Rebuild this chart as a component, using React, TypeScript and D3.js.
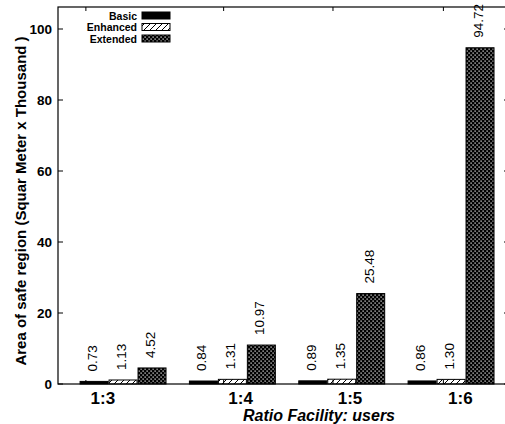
import * as d3 from 'd3';

const categories = ['1:3', '1:4', '1:5', '1:6'];
// gnuplot-style tic positions (in group units) for each category
const catTickPos = [-0.34, 0.92, 1.92, 2.93];
const seriesNames = ['Basic', 'Enhanced', 'Extended'];
const basic = [0.73, 0.84, 0.89, 0.86];
const enhanced = [1.13, 1.31, 1.35, 1.30];
const extended = [4.52, 10.97, 25.48, 94.72];
const yTicks = [0, 20, 40, 60, 80, 100];

const W = 505;
const H = 424;
const plot = { left: 58, top: 7, right: 509, bottom: 384 };
const FONT = '"Liberation Sans", Arial, Helvetica, sans-serif';

const series = [basic, enhanced, extended];
const fills = ['#000', 'url(#hatch)', 'url(#dots)'];

export default function App() {
  const x = d3.scaleLinear().domain([-0.595, 3.53]).range([plot.left, plot.right]);
  const y = d3.scaleLinear().domain([0, 106.2]).range([plot.bottom, plot.top]);
  const step = 0.265;
  const bw = x(0.256) - x(0);

  return (
    <svg width={W} height={H} style={{ display: 'block', position: 'absolute', left: 0, top: 0 }}>
      <defs>
        <pattern id="hatch" width="6" height="6" patternUnits="userSpaceOnUse">
          <rect width="6" height="6" fill="#fff" />
          <path d="M-1,7 L7,-1 M-4,4 L4,-4 M2,10 L10,2" stroke="#000" strokeWidth="1" />
        </pattern>
        <pattern id="dots" width="4" height="4" patternUnits="userSpaceOnUse">
          <rect width="4" height="4" fill="#000" />
          <rect x="0.5" y="0.5" width="1.2" height="1.2" fill="#fff" />
          <rect x="2.5" y="2.5" width="1.2" height="1.2" fill="#fff" />
        </pattern>
      </defs>
      <rect width={W} height={H} fill="#fff" />

      {/* bars */}
      {categories.map((c, i) =>
        series.map((s, k) => {
          const cx = x(i + (k - 1) * step);
          return (
            <rect
              key={c + k}
              x={cx - bw / 2}
              y={y(s[i])}
              width={bw}
              height={y(0) - y(s[i])}
              fill={fills[k]}
              stroke="#000"
              strokeWidth={1}
            />
          );
        })
      )}

      {/* value labels */}
      {categories.map((c, i) =>
        series.map((s, k) => {
          const cx = x(i + (k - 1) * step);
          return (
            <text
              key={'v' + c + k}
              transform={`translate(${cx + 3},${y(s[i]) - 10}) rotate(-90)`}
              fontFamily={FONT}
              fontSize={13.5}
              fill="#000"
            >
              {s[i].toFixed(2)}
            </text>
          );
        })
      )}

      {/* frame */}
      <rect
        x={plot.left}
        y={plot.top}
        width={plot.right - plot.left}
        height={plot.bottom - plot.top}
        fill="none"
        stroke="#000"
        strokeWidth={1.2}
      />

      {/* y ticks */}
      {yTicks.map(t => (
        <g key={'y' + t}>
          <line x1={plot.left} x2={plot.left + 5} y1={y(t)} y2={y(t)} stroke="#000" />
          <line x1={plot.right - 5} x2={plot.right} y1={y(t)} y2={y(t)} stroke="#000" />
          <text
            x={52}
            y={y(t) + 5}
            textAnchor="end"
            fontFamily={FONT}
            fontWeight="bold"
            fontSize={13.5}
          >
            {t}
          </text>
        </g>
      ))}

      {/* x ticks */}
      {categories.map((c, i) => (
        <g key={'x' + c}>
          <line x1={x(catTickPos[i])} x2={x(catTickPos[i])} y1={plot.top} y2={plot.top + 4} stroke="#000" />
          <line x1={x(catTickPos[i])} x2={x(catTickPos[i])} y1={plot.bottom} y2={plot.bottom - 4} stroke="#000" />
          <text
            x={x(catTickPos[i]) + 17}
            y={404}
            textAnchor="middle"
            fontFamily={FONT}
            fontWeight="bold"
            fontSize={17}
          >
            {c}
          </text>
        </g>
      ))}

      {/* axis titles */}
      <text
        x={319}
        y={421}
        textAnchor="middle"
        fontFamily={FONT}
        fontWeight="bold"
        fontStyle="italic"
        fontSize={16}
      >
        Ratio Facility: users
      </text>
      <text
        transform="translate(26,201) rotate(-90)"
        textAnchor="middle"
        fontFamily={FONT}
        fontWeight="bold"
        fontSize={15}
      >
        Area of safe region (Squar Meter x Thousand )
      </text>

      {/* legend */}
      {seriesNames.map((n, k) => {
        const cy = 15.5 + k * 11.5;
        return (
          <g key={'l' + n}>
            <text
              x={137}
              y={cy + 4}
              textAnchor="end"
              fontFamily={FONT}
              fontWeight="bold"
              fontSize={10.5}
            >
              {n}
            </text>
            <rect x={142} y={cy - 3.5} width={28} height={7} fill={fills[k]} stroke="#000" strokeWidth={1} />
          </g>
        );
      })}
    </svg>
  );
}
